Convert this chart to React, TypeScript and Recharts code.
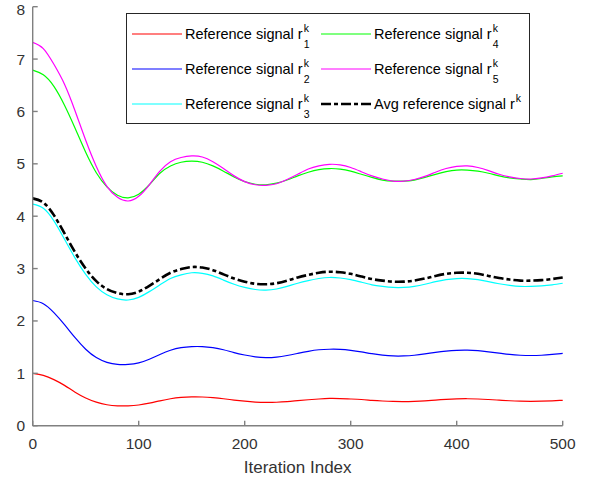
import { CSSProperties } from "react";
import { Legend, Line, LineChart, XAxis, YAxis } from "recharts";

// iteration index, sampled every 10 steps
const ITER = [
  0, 10, 20, 30, 40, 50, 60, 70, 80, 90, 100, 110, 120, 130, 140, 150, 160,
  170, 180, 190, 200, 210, 220, 230, 240, 250, 260, 270, 280, 290, 300, 310,
  320, 330, 340, 350, 360, 370, 380, 390, 400, 410, 420, 430, 440, 450, 460,
  470, 480, 490, 500,
];

const R1 = [
  1.0, 0.96, 0.88, 0.77, 0.64, 0.53, 0.45, 0.4, 0.38, 0.38, 0.395, 0.43, 0.475,
  0.515, 0.54, 0.55, 0.548, 0.535, 0.515, 0.49, 0.468, 0.452, 0.445, 0.448,
  0.46, 0.478, 0.495, 0.51, 0.52, 0.518, 0.51, 0.5, 0.485, 0.472, 0.463, 0.46,
  0.465, 0.475, 0.49, 0.503, 0.512, 0.515, 0.51, 0.5, 0.488, 0.476, 0.468,
  0.465, 0.468, 0.475, 0.485,
];

const R2 = [
  2.39, 2.33, 2.16, 1.93, 1.68, 1.46, 1.3, 1.21, 1.17, 1.17, 1.2, 1.27, 1.36,
  1.44, 1.49, 1.51, 1.51, 1.49, 1.45, 1.395, 1.35, 1.315, 1.3, 1.31, 1.34, 1.38,
  1.42, 1.45, 1.46, 1.458, 1.44, 1.41, 1.375, 1.348, 1.332, 1.332, 1.345, 1.37,
  1.4, 1.425, 1.44, 1.443, 1.432, 1.41, 1.385, 1.36, 1.345, 1.34, 1.345, 1.36,
  1.38,
];

const R3 = [
  4.23, 4.15, 3.91, 3.56, 3.2, 2.89, 2.65, 2.5, 2.42, 2.4, 2.45, 2.56, 2.69,
  2.81, 2.88, 2.92, 2.91, 2.86, 2.78, 2.7, 2.64, 2.6, 2.59, 2.61, 2.66, 2.72,
  2.77, 2.81, 2.83, 2.82, 2.79, 2.74, 2.69, 2.66, 2.64, 2.64, 2.66, 2.7, 2.75,
  2.79, 2.81, 2.81, 2.79, 2.75, 2.71, 2.68, 2.66, 2.66, 2.67, 2.69, 2.72,
];

const R4 = [
  6.79, 6.7, 6.48, 6.12, 5.68, 5.22, 4.83, 4.56, 4.4, 4.35, 4.42, 4.6, 4.82,
  4.96, 5.03, 5.05, 5.03, 4.96, 4.86, 4.75, 4.66, 4.61, 4.6, 4.63, 4.69, 4.77,
  4.84, 4.89, 4.91, 4.9, 4.86, 4.8, 4.74, 4.69, 4.67, 4.67, 4.69, 4.74, 4.8,
  4.85, 4.88, 4.88, 4.86, 4.82, 4.77, 4.73, 4.71, 4.7, 4.72, 4.75, 4.77,
];

const R5 = [
  7.32, 7.2, 6.9, 6.52, 6.01, 5.45, 4.95, 4.57, 4.36, 4.29, 4.38, 4.6, 4.86,
  5.04, 5.12, 5.15, 5.13, 5.04, 4.91, 4.77, 4.66, 4.6, 4.59, 4.62, 4.7, 4.8,
  4.9, 4.96, 4.99, 4.98, 4.93, 4.85, 4.77, 4.71, 4.67, 4.67, 4.7, 4.76, 4.84,
  4.91, 4.95, 4.96, 4.93, 4.87, 4.8, 4.75, 4.72, 4.71, 4.73, 4.77, 4.82,
];

const AVG = [
  4.34, 4.26, 4.02, 3.67, 3.31, 3.0, 2.76, 2.61, 2.53, 2.51, 2.56, 2.67, 2.8,
  2.92, 2.99, 3.03, 3.02, 2.97, 2.89, 2.81, 2.75, 2.71, 2.7, 2.72, 2.77, 2.83,
  2.88, 2.92, 2.94, 2.93, 2.9, 2.85, 2.8, 2.77, 2.75, 2.75, 2.77, 2.81, 2.86,
  2.9, 2.92, 2.92, 2.9, 2.86, 2.82, 2.79, 2.77, 2.77, 2.78, 2.8, 2.83,
];

const X_TICKS = [0, 100, 200, 300, 400, 500];
const Y_TICKS = [0, 1, 2, 3, 4, 5, 6, 7, 8];

const data = ITER.map((it, i) => ({
  it,
  r1: R1[i],
  r2: R2[i],
  r3: R3[i],
  r4: R4[i],
  r5: R5[i],
  avg: AVG[i],
}));

const FONT = '"Liberation Sans", Arial, Helvetica, sans-serif';
const AXIS = "#808080";
const DASH_DOT = "10 3 4 3";

type Entry = { color: string; sub?: string; avg?: boolean };

// legend is column-major: r1..r3 on the left, r4, r5, avg on the right
const COL_LEFT: Entry[] = [
  { color: "#ff0000", sub: "1" },
  { color: "#0000ff", sub: "2" },
  { color: "#00ffff", sub: "3" },
];
const COL_RIGHT: Entry[] = [
  { color: "#00ff00", sub: "4" },
  { color: "#ff00ff", sub: "5" },
  { color: "#000000", avg: true },
];

const SCRIPT: CSSProperties = {
  position: "absolute",
  left: 1,
  fontSize: 10.5,
  lineHeight: "12px",
};

function LegendRow({ entry, left, top }: { entry: Entry; left: number; top: number }) {
  const label: CSSProperties = {
    position: "absolute",
    left: left + 53,
    top: top - 9,
    height: 18,
    fontSize: 14.5,
    lineHeight: "18px",
    whiteSpace: "nowrap",
    color: "#000",
  };
  return (
    <>
      <svg
        style={{ position: "absolute", left, top: top - 3 }}
        width={50}
        height={6}
      >
        <line
          x1={0}
          x2={50}
          y1={3}
          y2={3}
          stroke={entry.color}
          strokeWidth={entry.avg ? 2.6 : 1.2}
          strokeDasharray={entry.avg ? DASH_DOT : undefined}
        />
      </svg>
      <div style={label}>
        <span style={{ verticalAlign: "top" }}>
          {entry.avg ? "Avg reference signal r" : "Reference signal r"}
        </span>
        <span
          style={{
            position: "relative",
            display: "inline-block",
            verticalAlign: "top",
            width: 8,
            height: 18,
          }}
        >
          <span style={{ ...SCRIPT, top: -3 }}>k</span>
          {entry.sub && <span style={{ ...SCRIPT, top: 13 }}>{entry.sub}</span>}
        </span>
      </div>
    </>
  );
}

function LegendBox() {
  const rows = [20, 55, 90];
  return (
    <div
      style={{
        position: "relative",
        width: 402,
        height: 109,
        border: "1px solid #262626",
        background: "#fff",
        fontFamily: FONT,
      }}
    >
      {COL_LEFT.map((e, i) => (
        <LegendRow key={"l" + i} entry={e} left={5} top={rows[i]} />
      ))}
      {COL_RIGHT.map((e, i) => (
        <LegendRow key={"r" + i} entry={e} left={194} top={rows[i]} />
      ))}
    </div>
  );
}

export default function App() {
  const tickStyle = { fill: "#333", fontSize: 15.5, fontFamily: FONT };
  return (
    <div style={{ position: "absolute", left: 0, top: 0, background: "#fff" }}>
      <LineChart
        width={591}
        height={478}
        data={data}
        margin={{ top: 6.7, right: 28.3, bottom: 0, left: 0 }}
      >
        <XAxis
          dataKey="it"
          type="number"
          domain={[0, 500]}
          ticks={X_TICKS}
          height={52.3}
          stroke={AXIS}
          strokeWidth={1.4}
          tickSize={-5}
          tickMargin={17.6}
          tick={tickStyle}
          label={{
            value: "Iteration Index",
            position: "insideBottom",
            offset: 4.7,
            fill: "#333",
            fontSize: 17,
            fontFamily: FONT,
          }}
        />
        <YAxis
          type="number"
          domain={[0, 8]}
          ticks={Y_TICKS}
          width={32.7}
          stroke={AXIS}
          strokeWidth={1.4}
          tickSize={-5}
          tickMargin={12.7}
          tick={tickStyle}
        />
        <Legend
          layout="vertical"
          align="center"
          verticalAlign="middle"
          content={() => <LegendBox />}
          wrapperStyle={{ left: 126, top: 13.3, width: 404, height: 111 }}
        />
        <Line type="natural" dataKey="r1" stroke="#ff0000" strokeWidth={1.2} dot={false} isAnimationActive={false} />
        <Line type="natural" dataKey="r2" stroke="#0000ff" strokeWidth={1.2} dot={false} isAnimationActive={false} />
        <Line type="natural" dataKey="r3" stroke="#00ffff" strokeWidth={1.2} dot={false} isAnimationActive={false} />
        <Line type="natural" dataKey="r4" stroke="#00ff00" strokeWidth={1.2} dot={false} isAnimationActive={false} />
        <Line type="natural" dataKey="r5" stroke="#ff00ff" strokeWidth={1.2} dot={false} isAnimationActive={false} />
        <Line
          type="natural"
          dataKey="avg"
          stroke="#000000"
          strokeWidth={2.6}
          strokeDasharray={DASH_DOT}
          dot={false}
          isAnimationActive={false}
        />
      </LineChart>
    </div>
  );
}
